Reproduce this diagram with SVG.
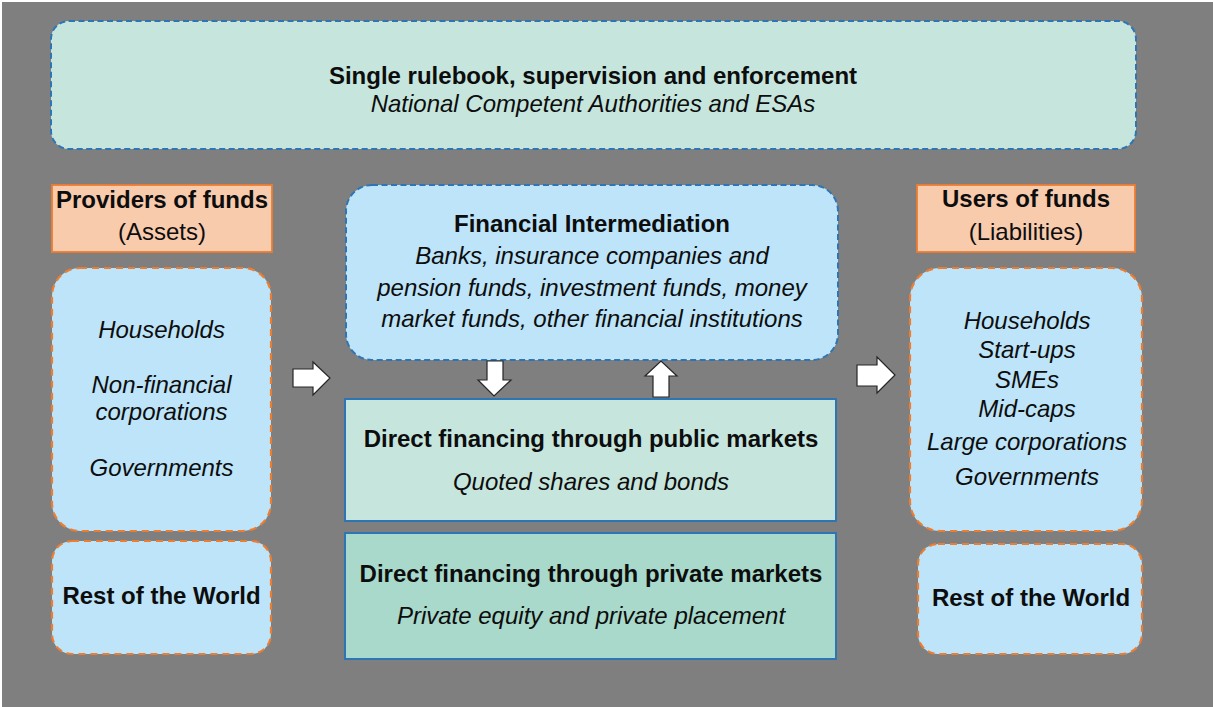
<svg xmlns="http://www.w3.org/2000/svg" width="1213" height="707" viewBox="0 0 1213 707">
  <defs>
    <style>
      text { font-family: "Liberation Sans", Arial, sans-serif; font-size: 24px; fill: #0d0d0d; text-anchor: middle; }
      .b { font-weight: bold; }
      .i { font-style: italic; }
      .teal { fill: #c6e6dd; }
      .blueDash { stroke: #2e75b6; stroke-width: 2; stroke-dasharray: 6 3.5; }
      .orangeDash { fill: #bde4f8; stroke: #ed7d31; stroke-width: 2.2; stroke-dasharray: 7 5; }
      .hdr { fill: #f8cbad; stroke: #ed7d31; stroke-width: 1.8; }
      .solid { stroke: #2e75b6; stroke-width: 2; }
      .arrow { fill: #ffffff; stroke: #262626; stroke-width: 1.2; stroke-linejoin: miter; }
    </style>
  </defs>

  <!-- canvas -->
  <rect x="0" y="0" width="1213" height="707" fill="#ffffff"/>
  <rect x="2" y="2" width="1211" height="705" fill="#7f7f7f"/>

  <!-- regulation layer -->
  <g id="rulebook">
    <rect class="teal blueDash" x="51" y="21" width="1085" height="128" rx="18"/>
    <text class="b" x="593" y="84">Single rulebook, supervision and enforcement</text>
    <text class="i" x="593" y="112">National Competent Authorities and ESAs</text>
  </g>

  <!-- providers column -->
  <g id="providers-header">
    <rect class="hdr" x="52" y="185" width="220" height="67"/>
    <text class="b" x="162" y="208">Providers of funds</text>
    <text x="162" y="240">(Assets)</text>
  </g>
  <g id="providers">
    <rect class="orangeDash" x="52" y="268" width="219" height="263" rx="28"/>
    <text class="i" x="161.5" y="338">Households</text>
    <text class="i" x="161.5" y="393">Non-financial</text>
    <text class="i" x="161.5" y="420">corporations</text>
    <text class="i" x="161.5" y="476">Governments</text>
  </g>
  <g id="providers-row">
    <rect class="orangeDash" x="52" y="541" width="219" height="113" rx="20"/>
    <text class="b" x="161.5" y="604">Rest of the World</text>
  </g>

  <!-- middle column -->
  <g id="intermediation">
    <rect fill="#bde4f8" class="blueDash" x="346" y="185" width="492" height="175" rx="26"/>
    <text class="b" x="592" y="232">Financial Intermediation</text>
    <text class="i" x="592" y="264">Banks, insurance companies and</text>
    <text class="i" x="592" y="296">pension funds, investment funds, money</text>
    <text class="i" x="592" y="327">market funds, other financial institutions</text>
  </g>
  <g id="public-markets">
    <rect class="teal solid" x="345" y="399" width="491" height="122"/>
    <text class="b" x="591" y="447">Direct financing through public markets</text>
    <text class="i" x="591" y="490">Quoted shares and bonds</text>
  </g>
  <g id="private-markets">
    <rect fill="#a8d9ca" class="solid" x="345" y="533" width="491" height="126"/>
    <text class="b" x="591" y="582">Direct financing through private markets</text>
    <text class="i" x="591" y="624">Private equity and private placement</text>
  </g>

  <!-- users column -->
  <g id="users-header">
    <rect class="hdr" x="917" y="185" width="218" height="67"/>
    <text class="b" x="1026" y="207">Users of funds</text>
    <text x="1026" y="240">(Liabilities)</text>
  </g>
  <g id="users">
    <rect class="orangeDash" x="910" y="268" width="232" height="263" rx="30"/>
    <text class="i" x="1027" y="329">Households</text>
    <text class="i" x="1027" y="358">Start-ups</text>
    <text class="i" x="1027" y="388">SMEs</text>
    <text class="i" x="1027" y="417">Mid-caps</text>
    <text class="i" x="1027" y="450">Large corporations</text>
    <text class="i" x="1027" y="485">Governments</text>
  </g>
  <g id="users-row">
    <rect class="orangeDash" x="918" y="544" width="224" height="110" rx="20"/>
    <text class="b" x="1031" y="606">Rest of the World</text>
  </g>

  <!-- flow arrows -->
  <g id="connectors">
    <polygon class="arrow" points="293,369 313,369 313,362 330,378 313,395 313,387 293,387"/>
    <polygon class="arrow" points="857,365 877,365 877,357 895,375 877,393 877,386 857,386"/>
    <polygon class="arrow" points="487,361 503,361 503,380 511,380 494,396 478,380 487,380"/>
    <polygon class="arrow" points="653,397 653,376 645,376 661,361 677,376 669,376 669,397"/>
  </g>
</svg>
